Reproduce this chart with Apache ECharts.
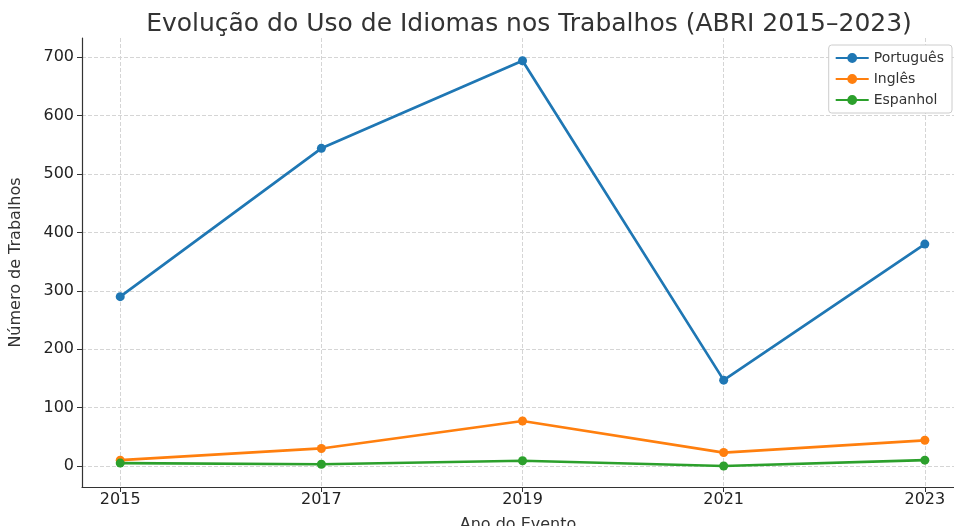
<!DOCTYPE html>
<html><head><meta charset="utf-8">
<script src="https://cdn.jsdelivr.net/npm/echarts@6/dist/echarts.min.js"></script>
<style>html,body{margin:0;padding:0;background:#fff}#c{width:954px;height:526px}</style>
</head><body><div id="c"></div>
<script>
const years = [2015, 2017, 2019, 2021, 2023];
const portugues = [290, 544, 694, 147, 380];
const ingles = [10, 30, 77, 23, 44];
const espanhol = [5, 3, 9, 0, 10];
const yTicks = [0, 100, 200, 300, 400, 500, 600, 700];
const seriesNames = ['Português', 'Inglês', 'Espanhol'];
const colors = ['#1f77b4', '#ff7f0e', '#2ca02c'];

const pair = arr => arr.map((v, i) => [years[i], v]);
const font = 'DejaVu Sans';
const chart = echarts.init(document.getElementById('c'));
const mk = (name, data, color) => ({
  name, type: 'line', data: pair(data), symbol: 'circle', symbolSize: 9,
  lineStyle: {width: 2.7, color}, itemStyle: {color}, z: 3
});
chart.setOption({
  animation: false,
  textStyle: {fontFamily: font},
  title: {text: 'Evolução do Uso de Idiomas nos Trabalhos (ABRI 2015–2023)', left: 524, textAlign: 'center', top: 7,
    textStyle: {fontSize: 25, fontWeight: 'normal', color: '#333', fontFamily: font}},
  legend: {data: seriesNames.map(n => ({name: n, icon: 'path://M0,4.2 L25,4.2 L25,5.8 L0,5.8 Z M12.5,1.3 A3.7,3.7 0 1 1 12.49,1.3 Z'})),
    orient: 'vertical', right: 2, top: 45, itemWidth: 33, itemHeight: 11, itemGap: 7,
    padding: [6, 8, 6, 7], borderColor: '#ccc', borderWidth: 1, borderRadius: 3, backgroundColor: '#fff',
    textStyle: {fontSize: 14, color: '#333', fontFamily: font}},
  grid: {left: 82, right: 0, top: 38, bottom: 39, containLabel: false, outerBoundsMode: 'none'},
  xAxis: {type: 'value', min: 2014.62, max: 2023.29,
    name: 'Ano do Evento', nameLocation: 'middle', nameGap: 30,
    nameTextStyle: {fontSize: 16, color: '#333', fontFamily: font},
    axisLine: {show: true, onZero: false, lineStyle: {color: '#333', width: 1.2}},
    axisTick: {show: true, customValues: years, length: 5, lineStyle: {color: '#333'}},
    axisLabel: {customValues: years, fontSize: 16, color: '#222', margin: 5, formatter: v => String(v)},
    splitLine: {show: true, lineStyle: {type: 'dashed', color: '#d5d5d5'}}},
  yAxis: {type: 'value', min: -36, max: 733,
    name: 'Número de Trabalhos', nameLocation: 'middle', nameGap: 58,
    nameTextStyle: {fontSize: 16, color: '#333', fontFamily: font},
    axisLine: {show: true, onZero: false, lineStyle: {color: '#333', width: 1.2}},
    axisTick: {show: true, customValues: yTicks, length: 5, lineStyle: {color: '#333'}},
    axisLabel: {customValues: yTicks, fontSize: 16, color: '#222', margin: 8},
    splitLine: {show: true, lineStyle: {type: 'dashed', color: '#d5d5d5'}}},
  series: [mk(seriesNames[0], portugues, colors[0]), mk(seriesNames[1], ingles, colors[1]), mk(seriesNames[2], espanhol, colors[2])]
});
</script></body></html>
